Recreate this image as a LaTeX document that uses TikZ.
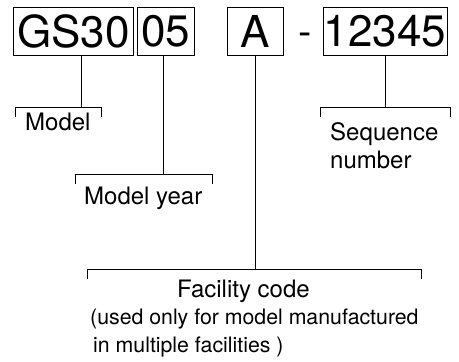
\documentclass[tikz,border=0pt]{standalone}
\usepackage{fontspec}
\setmainfont{TeX Gyre Heros}
\usetikzlibrary{positioning}

\begin{document}
\begin{tikzpicture}[x=1pt,y=-1pt,
  codebox/.style={draw,line width=0.8pt,inner sep=0pt,minimum height=47.7pt,font=\fontsize{44}{44}\selectfont},
  lbl/.style={anchor=base west,inner sep=0pt,font=\fontsize{24}{29}\selectfont},
  notelbl/.style={lbl,font=\fontsize{21.3}{29}\selectfont},
  brk/.style={line width=0.8pt}]
\useasboundingbox (0,0) rectangle (459,362);
% the code boxes
\node[codebox,minimum width=120pt] (model) at (73.3,31.2) {GS30};
\node[codebox,minimum width=56.3pt] (year) at (165.8,31.2) {05};
\node[codebox,minimum width=55.3pt] (fac) at (255.3,31.2) {A};
\node[anchor=base,inner sep=0pt,font=\fontsize{40}{40}\selectfont] (dash) at (305.5,45) {-};
\node[codebox,minimum width=124pt] (seq) at (385,31.2) {12345};
% brackets under the boxes
\foreach \l/\r/\y in {15.7/101.7/107.7, 75.7/212/174, 320/450/107.7, 87/421/269.3}
\draw[brk] (\l,\y+9.5) |- (\r,\y) -- (\r,\y+9.5);
\coordinate (mb) at (81.7,107.7);
\coordinate (yb) at (163,174);
\coordinate (fb) at (255.3,269.3);
\coordinate (sb) at (385,107.7);
\draw[brk] (model.south -| mb) -- (mb);
\draw[brk] (year.south -| yb) -- (yb);
\draw[brk] (fac.south -| fb) -- (fb);
\draw[brk] (seq.south -| sb) -- (sb);
% labels
\node[lbl] (modellbl) at (25,130.7) {Model};
\node[lbl] (yearlbl) at (84,204) {Model year};
\node[lbl] (seqlbl) at (330,140) {Sequence};
\node[lbl] (seqlbl2) at (330,168) {number};
\node[lbl] (faclbl) at (177,297.5) {Facility code};
\node[notelbl] (facnote) at (90,324) {(used only for model manufactured};
\node[notelbl] (facnote2) at (93,352) {in multiple facilities )};
\end{tikzpicture}
\end{document}
